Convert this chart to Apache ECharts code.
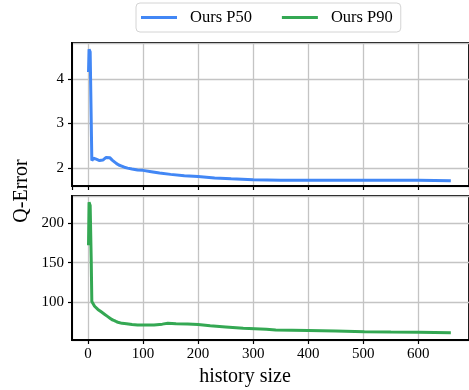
<!DOCTYPE html>
<html>
<head>
<meta charset="utf-8">
<script src="https://cdn.jsdelivr.net/npm/echarts@6/dist/echarts.min.js"></script>
<style>html,body{margin:0;padding:0;background:#fff}#c{width:469px;height:390px}</style>
</head>
<body>
<div id="c"></div>
<script>
const seriesNames = ['Ours P50', 'Ours P90'];
const p50X = [1,2,4,6,7,8,10,12,15,18,21,24,27,30,33,36,40,44,48,52,56,60,66,72,80,90,100,115,130,150,175,200,230,260,300,350,400,450,500,550,600,659];
const p50Y = [4.15,4.66,4.6,3.0,2.17,2.2,2.22,2.18,2.2,2.19,2.17,2.2,2.18,2.2,2.24,2.25,2.23,2.18,2.14,2.1,2.07,2.05,2.02,2.0,1.98,1.96,1.95,1.92,1.89,1.86,1.83,1.81,1.78,1.76,1.74,1.73,1.73,1.73,1.73,1.73,1.73,1.72];
const p90X = [1,2,4,6,7,9,12,15,18,21,24,27,30,33,36,40,44,48,52,56,62,70,80,90,104,120,135,145,160,181,200,222,250,282,324,341,400,450,502,550,600,659];
const p90Y = [172,226,222,150,101,100,95,93,91,90,88,87,85,84,82,80,78,77,75.5,74.5,73.5,73,72,71.5,71.4,71.5,72.5,73.5,73,72.7,72,70.5,69,67.2,66,65,64.5,63.8,63,62.5,62.2,61.7];
const xTitle = 'history size';
const yTitle = 'Q-Error';

const zip = (xs, ys) => xs.map((x, i) => [x, ys[i]]);
const font = 'Liberation Serif';
const gridLine = {show: true, lineStyle: {color: '#c4c4c4', width: 1.3}};
const xBase = (gi, labels) => ({
  type: 'value', gridIndex: gi, min: -29, max: 692, splitNumber: 7,
  axisLine: {show: true, onZero: false, lineStyle: {color: '#000', width: 2}},
  axisTick: {show: true, inside: false, length: 4, lineStyle: {color: '#000', width: 1.2}},
  axisLabel: {show: labels, showMinLabel: false, showMaxLabel: false, fontFamily: font, fontSize: 15, color: '#000', margin: 7},
  splitLine: gridLine
});
const yBase = (gi, min, max, split) => ({
  type: 'value', gridIndex: gi, min: min, max: max, splitNumber: split,
  axisLine: {show: true, onZero: false, lineStyle: {color: '#000', width: 2}},
  axisTick: {show: true, inside: false, length: 4, lineStyle: {color: '#000', width: 1.2}},
  axisLabel: {showMinLabel: false, showMaxLabel: false, fontFamily: font, fontSize: 15, color: '#000', margin: 8},
  splitLine: gridLine
});

const chart = echarts.init(document.getElementById('c'), null, {renderer: 'canvas'});
chart.setOption({
  animation: false,
  backgroundColor: '#fff',
  legend: {
    data: seriesNames.map(n => ({name: n, icon: 'rect'})), top: 3, left: 136,
    padding: [6, 8, 6, 5], itemGap: 30, itemWidth: 36, itemHeight: 3,
    borderColor: '#d4d4d4', borderWidth: 1, borderRadius: 4, backgroundColor: '#fff',
    textStyle: {fontFamily: font, fontSize: 16.5, color: '#000', padding: [0, 0, 0, 8]}
  },
  grid: [
    {left: 72, right: -8, top: 43, height: 143, show: true, borderColor: '#000', borderWidth: 2, backgroundColor: 'transparent'},
    {left: 72, right: -8, top: 196, height: 144, show: true, borderColor: '#000', borderWidth: 2, backgroundColor: 'transparent'}
  ],
  xAxis: [xBase(0, false), xBase(1, true)],
  yAxis: [yBase(0, 1.6, 4.8, 3), yBase(1, 52.5, 234, 4)],
  graphic: [
    {type: 'text', x: 22, y: 191, rotation: Math.PI / 2,
      style: {text: yTitle, fontFamily: font, fontSize: 20, fill: '#000', align: 'center', verticalAlign: 'middle'}},
    {type: 'text', x: 245, y: 377,
      style: {text: xTitle, fontFamily: font, fontSize: 20, fill: '#000', align: 'center', verticalAlign: 'middle'}}
  ],
  series: [
    {name: seriesNames[0], type: 'line', xAxisIndex: 0, yAxisIndex: 0, data: zip(p50X, p50Y),
      symbol: 'none', lineStyle: {color: '#4287f5', width: 3}, itemStyle: {color: '#4287f5'}},
    {name: seriesNames[1], type: 'line', xAxisIndex: 1, yAxisIndex: 1, data: zip(p90X, p90Y),
      symbol: 'none', lineStyle: {color: '#34a853', width: 3}, itemStyle: {color: '#34a853'}}
  ]
});
</script>
</body>
</html>
